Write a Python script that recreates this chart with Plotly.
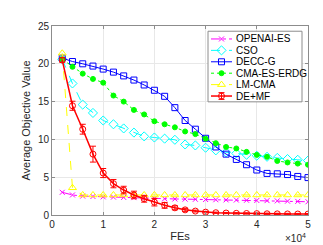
import plotly.graph_objects as go

fes = [2000, 4000, 6000, 8000, 10000, 12000, 14000, 16000, 18000, 20000,
       22000, 24000, 26000, 28000, 30000, 32000, 34000, 36000, 38000, 40000,
       42000, 44000, 46000, 48000, 50000]

openai_es = [3.0, 2.65, 2.5, 2.45, 2.4, 2.37, 2.33, 2.3, 2.25, 2.2, 2.15, 2.12, 2.1,
             2.08, 2.05, 2.02, 2.0, 1.98, 1.95, 1.92, 1.9, 1.87, 1.83, 1.8, 1.75]
cso = [20.6, 17.4, 14.6, 13.5, 12.5, 12.0, 11.45, 10.9, 10.4, 10.25, 10.1, 9.95, 9.33,
       9.2, 8.9, 8.55, 8.3, 8.15, 7.97, 7.84, 7.7, 7.55, 7.4, 7.3, 7.2]
decc_g = [20.75, 20.3, 20.0, 19.7, 19.3, 18.9, 18.4, 17.85, 17.2, 16.5, 15.7, 14.2, 12.5,
          11.35, 10.15, 9.0, 8.05, 7.35, 6.65, 5.95, 5.5, 5.45, 5.35, 5.1, 4.95]
cma_es_erdg = [20.6, 19.6, 18.7, 18.0, 17.5, 15.8, 15.0, 13.9, 13.3, 12.4, 12.0, 11.6, 11.05,
               10.7, 10.1, 9.5, 9.0, 8.8, 8.35, 7.95, 7.7, 7.15, 6.95, 6.8, 6.65]
lm_cma = [21.4, 3.6, 2.65, 2.65, 2.65, 2.65, 2.65, 2.65, 2.65, 2.65, 2.65, 2.65, 2.65,
          2.65, 2.65, 2.65, 2.65, 2.65, 2.65, 2.65, 2.65, 2.65, 2.65, 2.65, 2.65]
de_mf = [20.5, 14.45, 11.35, 8.05, 5.55, 4.15, 3.3, 2.65, 2.15, 1.7, 1.28, 0.95, 0.68,
         0.52, 0.38, 0.3, 0.26, 0.22, 0.2, 0.18, 0.16, 0.15, 0.14, 0.13, 0.12]
de_mf_err = [0.3, 0.6, 0.65, 1.05, 0.6, 0.55, 0.5, 0.5, 0.45, 0.5, 0.38, 0.26, 0.2,
             0.12, 0.1, 0.08, 0.08, 0.08, 0.08, 0.08, 0.08, 0.08, 0.08, 0.08, 0.08]

x_tickvals = [0, 10000, 20000, 30000, 40000, 50000]
x_ticktext = ["0", "1", "2", "3", "4", "5"]
y_tickvals = [0, 5, 10, 15, 20, 25]

FONT = "Liberation Sans, Arial, Helvetica"
AX = "#8c8c8c"
TXT = "#262626"

series = [
    dict(name="OPENAI-ES", y=openai_es, color="#FF00FF", dash="dashdot",
         symbol="x-thin-open", size=5, width=1),
    dict(name="CSO", y=cso, color="#00FFFF", dash="dash",
         symbol="diamond-open", size=7, width=1),
    dict(name="DECC-G", y=decc_g, color="#0000FF", dash="solid",
         symbol="square-open", size=6, width=1),
    dict(name="CMA-ES-ERDG", y=cma_es_erdg, color="#00FF00", dash="dot",
         symbol="circle", size=5, width=1),
    dict(name="LM-CMA", y=lm_cma, color="#FFFF00", dash="dash",
         symbol="triangle-up-open", size=7, width=1),
    dict(name="DE+MF", y=de_mf, color="#FF0000", dash="solid",
         symbol="circle-open", size=6, width=1.5),
]

fig = go.Figure()

for s in series:
    kw = {}
    if s["name"] == "DE+MF":
        kw["error_y"] = dict(type="data", array=de_mf_err, color=s["color"],
                             thickness=1, width=3)
    fig.add_trace(go.Scatter(
        x=fes, y=s["y"], name=s["name"], mode="lines+markers", showlegend=False,
        line=dict(color=s["color"], width=s["width"], dash=s["dash"]),
        marker=dict(symbol=s["symbol"], size=s["size"], color=s["color"],
                    line=dict(color=s["color"], width=1)),
        **kw))

# ---- legend box (pixel layout of the plot area: x 44..300, y 17.6..213) ----
PX0, PX1, PY0, PY1 = 44.0, 300.0, 213.0, 17.6
XMAX, YMAX = 50000.0, 25.0


def px_to_x(px):
    return (px - PX0) / (PX1 - PX0) * XMAX


def py_to_y(py):
    return (PY0 - py) / (PY0 - PY1) * YMAX


leg_left, leg_right, leg_top, leg_bottom = 200, 294, 23, 96
row_h = 11.8
glyph_x0, glyph_x1, text_x = 203, 224, 226
fig.add_shape(type="rect", xref="x", yref="y",
              x0=px_to_x(leg_left), x1=px_to_x(leg_right),
              y0=py_to_y(leg_bottom), y1=py_to_y(leg_top),
              line=dict(color=AX, width=1), fillcolor="white", layer="between")
for i, s in enumerate(series):
    ry = leg_top + 8 + i * row_h
    fig.add_trace(go.Scatter(
        x=[glyph_x0, glyph_x1], y=[ry, ry], xaxis="x2", yaxis="y2", mode="lines",
        showlegend=False, hoverinfo="skip",
        line=dict(color=s["color"], width=s["width"], dash=s["dash"])))
    kw = {}
    if s["name"] == "DE+MF":
        kw["error_y"] = dict(type="constant", value=3.5, color=s["color"],
                             thickness=1, width=3)
    fig.add_trace(go.Scatter(
        x=[(glyph_x0 + glyph_x1) / 2], y=[ry], xaxis="x2", yaxis="y2", mode="markers",
        showlegend=False, hoverinfo="skip",
        marker=dict(symbol=s["symbol"], size=s["size"], color=s["color"],
                    line=dict(color=s["color"], width=1)), **kw))
    fig.add_annotation(text=s["name"], xref="x2", yref="y2", x=text_x, y=ry,
                       xanchor="left", yanchor="middle", showarrow=False,
                       font=dict(family=FONT, size=10, color="#000000"))

axis_common = dict(showline=True, linecolor=AX, linewidth=1, mirror="ticks",
                   ticks="inside", ticklen=3, tickcolor=AX,
                   showgrid=True, gridcolor="#e8e8e8", gridwidth=1, zeroline=False,
                   tickfont=dict(family=FONT, size=10, color=TXT))

fig.update_layout(
    xaxis=dict(range=[0, 50000], tickvals=x_tickvals, ticktext=x_ticktext,
               title=dict(text="FEs", font=dict(family=FONT, size=11, color=TXT), standoff=3),
               **axis_common),
    yaxis=dict(range=[0, 25], tickvals=y_tickvals,
               title=dict(text="Average Objective Value",
                          font=dict(family=FONT, size=11, color=TXT), standoff=5),
               **axis_common),
    xaxis2=dict(range=[PX0, PX1], overlaying="x", visible=False, fixedrange=True),
    yaxis2=dict(range=[PY0, PY1], overlaying="y", visible=False, fixedrange=True),
)

fig.add_annotation(text="×10<sup>4</sup>", xref="paper", yref="paper", x=1.0, y=-0.08,
                   xanchor="right", yanchor="top", showarrow=False,
                   font=dict(family=FONT, size=10, color=TXT))

fig.update_layout(
    width=323, height=245,
    margin=dict(l=44, r=23, t=18, b=32),
    plot_bgcolor="white", paper_bgcolor="white",
    showlegend=False,
)

fig.write_html("out.html")
